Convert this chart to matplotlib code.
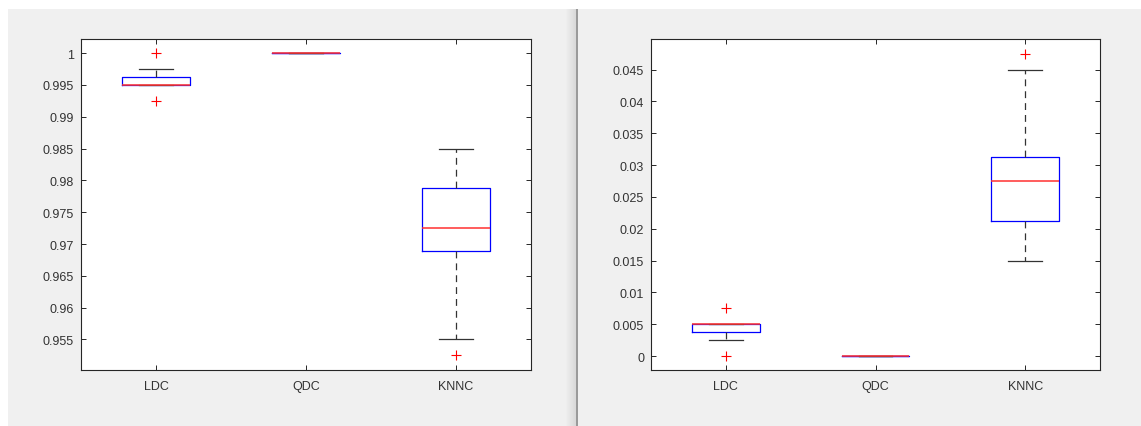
import numpy as np
import matplotlib
matplotlib.use('Agg')
import matplotlib.pyplot as plt
from matplotlib.patches import Rectangle

# Box plot summaries
classifiers = ['LDC', 'QDC', 'KNNC']

# left figure: accuracy
acc_whislo = [0.995, 1.0, 0.955]
acc_q1 = [0.995, 1.0, 0.9689]
acc_med = [0.995, 1.0, 0.9725]
acc_q3 = [0.99625, 1.0, 0.9788]
acc_whishi = [0.9975, 1.0, 0.985]
acc_fliers = [[1.0, 0.9925], [], [0.9525]]
acc_ticks = [0.955, 0.96, 0.965, 0.97, 0.975, 0.98, 0.985, 0.99, 0.995, 1.0]

# right figure: error
err_whislo = [0.0025, 0.0, 0.015]
err_q1 = [0.00375, 0.0, 0.0212]
err_med = [0.005, 0.0, 0.0275]
err_q3 = [0.005, 0.0, 0.0312]
err_whishi = [0.005, 0.0, 0.045]
err_fliers = [[0.0075, 0.0], [], [0.0475]]
err_ticks = [0.0, 0.005, 0.01, 0.015, 0.02, 0.025, 0.03, 0.035, 0.04, 0.045]

W, H = 1141, 427
plt.rcParams['font.family'] = ['Liberation Sans', 'DejaVu Sans']

fig = plt.figure(figsize=(W / 100, H / 100), dpi=100)
fig.patch.set_facecolor('white')


def px_rect(x0, y0, x1, y1, color):
    # rectangle in screenshot pixel coordinates (y from top)
    fig.add_artist(Rectangle((x0 / W, 1 - y1 / H), (x1 - x0) / W, (y1 - y0) / H,
                             transform=fig.transFigure, color=color, lw=0, zorder=-10))


# the two window backgrounds and the divider between them
px_rect(8, 10, 577, H, '#f0f0f0')
px_rect(577, 10, W, H, '#f0f0f0')
shade = np.linspace(0.941, 0.84, 12)
for i, g in enumerate(shade):
    px_rect(565 + i, 10, 566 + i, H, str(g))
px_rect(576, 10, 578, H, '#9a9a9a')


def make_stats(lo, q1, med, q3, hi, fliers):
    return [dict(whislo=lo[i], q1=q1[i], med=med[i], q3=q3[i], whishi=hi[i],
                 fliers=fliers[i], label=classifiers[i]) for i in range(len(classifiers))]


def draw(ax, stats, ticks, ylim):
    ax.bxp(stats, widths=0.45, showfliers=True,
           boxprops=dict(color='blue', lw=0.9),
           medianprops=dict(color='#ff3030', lw=1.1, zorder=4),
           whiskerprops=dict(color='#333333', lw=0.9, linestyle=(0, (5.5, 4))),
           capprops=dict(color='#333333', lw=0.9),
           flierprops=dict(marker='+', markeredgecolor='red', markersize=7, markeredgewidth=0.8))
    ax.set_xlim(0.5, 3.5)
    ax.set_ylim(*ylim)
    ax.set_yticks(ticks)
    ax.set_yticklabels([f'{round(t, 4):g}' for t in ticks])
    ax.set_facecolor('white')
    for s in ax.spines.values():
        s.set_color('#262626')
        s.set_linewidth(0.8)
    ax.tick_params(axis='y', direction='in', length=3.6, width=0.7, color='#262626',
                   labelcolor='#333333', labelsize=9, pad=5, right=True)
    ax.tick_params(axis='x', direction='in', length=3.6, width=0.7, color='#262626',
                   labelcolor='#333333', labelsize=9, pad=7, top=True)


ax1 = fig.add_axes([81 / W, 1 - 371 / H, 450 / W, 331.5 / H])
draw(ax1, make_stats(acc_whislo, acc_q1, acc_med, acc_q3, acc_whishi, acc_fliers),
     acc_ticks, (0.9502, 1.0023))

ax2 = fig.add_axes([651 / W, 1 - 371 / H, 449 / W, 331.5 / H])
draw(ax2, make_stats(err_whislo, err_q1, err_med, err_q3, err_whishi, err_fliers),
     err_ticks, (-0.0022, 0.0499))

fig.savefig('out.png', dpi=100, facecolor=fig.get_facecolor())
